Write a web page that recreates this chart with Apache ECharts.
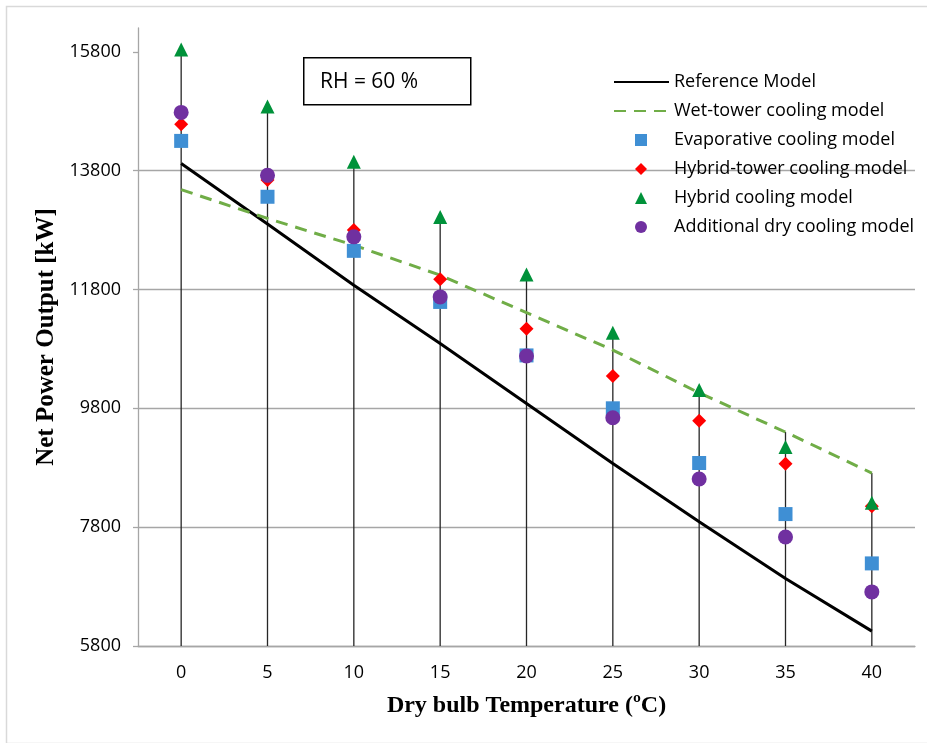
<!DOCTYPE html>
<html>
<head>
<meta charset="utf-8">
<script src="https://cdn.jsdelivr.net/npm/echarts@6/dist/echarts.min.js"></script>
<style>
html,body{margin:0;padding:0;background:#fff;}
#chart{width:927px;height:743px;}
</style>
</head>
<body>
<div id="chart"></div>
<script>
// ---- data ----
const categories = ['0', '5', '10', '15', '20', '25', '30', '35', '40'];
const yTicks = [5800, 7800, 9800, 11800, 13800, 15800];
const referenceModel = [13920, 12900, 11870, 10890, 9880, 8870, 7890, 6935, 6050];
const wetTower = [13480, 12995, 12545, 12040, 11410, 10780, 10060, 9400, 8710];
const evaporative = [14300, 13360, 12450, 11590, 10690, 9800, 8880, 8020, 7190];
const hybridTower = [14580, 13640, 12800, 11970, 11140, 10345, 9590, 8865, 8150];
const hybrid = [15840, 14880, 13950, 13020, 12050, 11070, 10110, 9150, 8210];
const additionalDry = [14780, 13720, 12685, 11675, 10680, 9640, 8610, 7635, 6710];
const seriesNames = ['Reference Model', 'Wet-tower cooling model', 'Evaporative cooling model',
  'Hybrid-tower cooling model', 'Hybrid cooling model', 'Additional dry cooling model'];

// drop lines go from the highest value at each temperature down to the axis
const allSeries = [referenceModel, wetTower, evaporative, hybridTower, hybrid, additionalDry];
const dropTop = categories.map((c, i) => Math.max(...allSeries.map(s => s[i])));

const LABEL_FONT = 'Open Sans';
const chart = echarts.init(document.getElementById('chart'), null, {renderer: 'canvas'});

const legendText = {fontFamily: LABEL_FONT, fontSize: 18, color: '#000'};
const option = {
  backgroundColor: '#ffffff',
  animation: false,
  grid: {left: 138, right: 12, top: 28, bottom: 97, containLabel: false},
  legend: [
    {
      data: seriesNames.slice(0, 2),
      orient: 'vertical',
      left: 608,
      top: 68,
      itemWidth: 55,
      itemHeight: 12,
      itemGap: 11,
      itemStyle: {opacity: 0},
      textStyle: legendText,
      selectedMode: false
    },
    {
      data: seriesNames.slice(2),
      orient: 'vertical',
      left: 630,
      top: 126,
      itemWidth: 12,
      itemHeight: 12,
      itemGap: 11,
      textStyle: Object.assign({padding: [0, 0, 0, 22]}, legendText),
      selectedMode: false
    }
  ],
  xAxis: {
    type: 'category',
    data: categories,
    boundaryGap: true,
    axisLine: {show: true, lineStyle: {color: '#a6a6a6', width: 1.3}},
    axisTick: {show: false},
    axisLabel: {fontFamily: LABEL_FONT, fontSize: 18, color: '#000', margin: 18},
    splitLine: {show: false},
    name: 'Dry bulb Temperature (ºC)',
    nameLocation: 'middle',
    nameGap: 48,
    nameTextStyle: {fontFamily: 'Liberation Serif', fontWeight: 'bold', fontSize: 24, color: '#000', verticalAlign: 'top'}
  },
  yAxis: {
    type: 'value',
    min: 5800,
    max: 16200,
    interval: 2000,
    axisLine: {show: true, lineStyle: {color: '#a6a6a6', width: 1.3}},
    axisTick: {show: true, length: 5, inside: false, customValues: yTicks, lineStyle: {color: '#a6a6a6', width: 1.3}},
    axisLabel: {fontFamily: LABEL_FONT, fontSize: 18, color: '#000', margin: 17, customValues: yTicks,
      formatter: function (v) { return String(v); }},
    splitLine: {show: true, showMaxLine: false, lineStyle: {color: '#a6a6a6', width: 1.3}},
    name: 'Net Power Output [kW]',
    nameLocation: 'middle',
    nameGap: 63,
    nameTextStyle: {fontFamily: 'Liberation Serif', fontWeight: 'bold', fontSize: 25, color: '#000'}
  },
  series: [
    {
      name: 'drops',
      type: 'custom',
      data: dropTop.map((v, i) => [i, v]),
      renderItem: function (params, api) {
        const top = api.coord([api.value(0), api.value(1)]);
        const bottom = api.coord([api.value(0), 5800]);
        return {
          type: 'line',
          shape: {x1: top[0], y1: top[1], x2: bottom[0], y2: bottom[1]},
          style: {stroke: '#262626', lineWidth: 1.3}
        };
      },
      z: 1,
      silent: true
    },
    {
      name: seriesNames[0], type: 'line', data: referenceModel,
      symbol: 'none', lineStyle: {color: '#000000', width: 3}, itemStyle: {color: '#000000'}, z: 3
    },
    {
      name: seriesNames[1], type: 'line', data: wetTower,
      symbol: 'none', lineStyle: {color: '#70ad47', width: 3, type: [12, 8]}, itemStyle: {color: '#70ad47'}, z: 3
    },
    {
      name: seriesNames[2], type: 'scatter', data: evaporative,
      symbol: 'rect', symbolSize: 14, itemStyle: {color: '#3f8fd4', opacity: 1}, z: 4
    },
    {
      name: seriesNames[3], type: 'scatter', data: hybridTower,
      symbol: 'diamond', symbolSize: [14, 14], itemStyle: {color: '#ff0000', opacity: 1}, z: 4
    },
    {
      name: seriesNames[4], type: 'scatter', data: hybrid,
      symbol: 'triangle', symbolSize: [14, 14], itemStyle: {color: '#00923a', opacity: 1}, z: 4
    },
    {
      name: seriesNames[5], type: 'scatter', data: additionalDry,
      symbol: 'circle', symbolSize: 15, itemStyle: {color: '#7030a0', opacity: 1}, z: 4
    }
  ],
  graphic: [
    {
      type: 'rect', left: 4, top: 4, silent: true, z: -1,
      shape: {width: 940, height: 737},
      style: {fill: 'none', stroke: '#d9d9d9', lineWidth: 1.5}
    },
    {
      type: 'rect', left: 303, top: 57, silent: true, z: 10,
      shape: {width: 167, height: 47},
      style: {fill: '#ffffff', stroke: '#000000', lineWidth: 1.5}
    },
    {
      type: 'text', left: 320, top: 72, silent: true, z: 11,
      style: {text: 'RH = 60 %', fontFamily: LABEL_FONT, fontSize: 21, fill: '#000'}
    }
  ]
};
chart.setOption(option);
</script>
</body>
</html>
